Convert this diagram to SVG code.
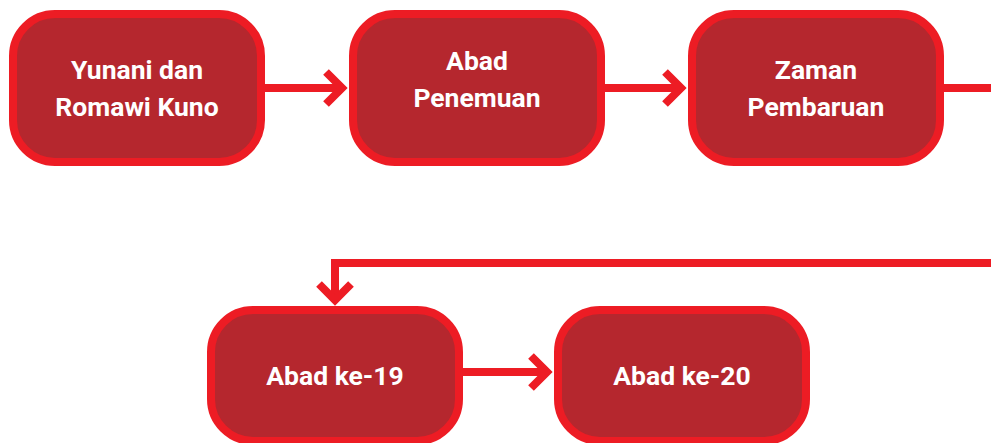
<svg xmlns="http://www.w3.org/2000/svg" width="991" height="443" viewBox="0 0 991 443">
  <style>
    .box { fill: #B5272E; stroke: #ED1C24; stroke-width: 8; }
    .lbl { fill: #FFFFFF; font-family: Roboto, "Liberation Sans", sans-serif; font-weight: 700; font-size: 26.5px; text-anchor: middle; }
    .wire { fill: none; stroke: #ED1C24; stroke-width: 8; stroke-linejoin: miter; stroke-linecap: butt; }
  </style>
  <rect width="991" height="443" fill="#FFFFFF"/>

  <g id="connectors">
    <!-- Yunani dan Romawi Kuno -> Abad Penemuan -->
    <path class="wire" d="M265 88 H342"/>
    <polyline class="wire" points="326,72 342,88 326,104"/>
    <!-- Abad Penemuan -> Zaman Pembaruan -->
    <path class="wire" d="M605 88 H681"/>
    <polyline class="wire" points="665,72 681,88 665,104"/>
    <!-- Zaman Pembaruan -> Abad ke-19 (wraps to the next row) -->
    <path class="wire" d="M944 88 H1000 V263 H335 V300"/>
    <polyline class="wire" points="319,284 335,300 351,284"/>
    <!-- Abad ke-19 -> Abad ke-20 -->
    <path class="wire" d="M463 372 H547"/>
    <polyline class="wire" points="531,356 547,372 531,388"/>
  </g>

  <g id="node-yunani">
    <rect class="box" x="13" y="14" width="248" height="148" rx="42"/>
    <text class="lbl" x="137" y="79">Yunani dan</text>
    <text class="lbl" x="137" y="116">Romawi Kuno</text>
  </g>

  <g id="node-penemuan">
    <rect class="box" x="353" y="14" width="248" height="148" rx="42"/>
    <text class="lbl" x="477" y="70">Abad</text>
    <text class="lbl" x="477" y="107">Penemuan</text>
  </g>

  <g id="node-pembaruan">
    <rect class="box" x="692" y="14" width="248" height="148" rx="42"/>
    <text class="lbl" x="816" y="79">Zaman</text>
    <text class="lbl" x="816" y="116">Pembaruan</text>
  </g>

  <g id="node-abad19">
    <rect class="box" x="211" y="310" width="248" height="131" rx="42"/>
    <text class="lbl" x="335" y="385">Abad ke-19</text>
  </g>

  <g id="node-abad20">
    <rect class="box" x="558" y="310" width="248" height="131" rx="42"/>
    <text class="lbl" x="682" y="385">Abad ke-20</text>
  </g>
</svg>
